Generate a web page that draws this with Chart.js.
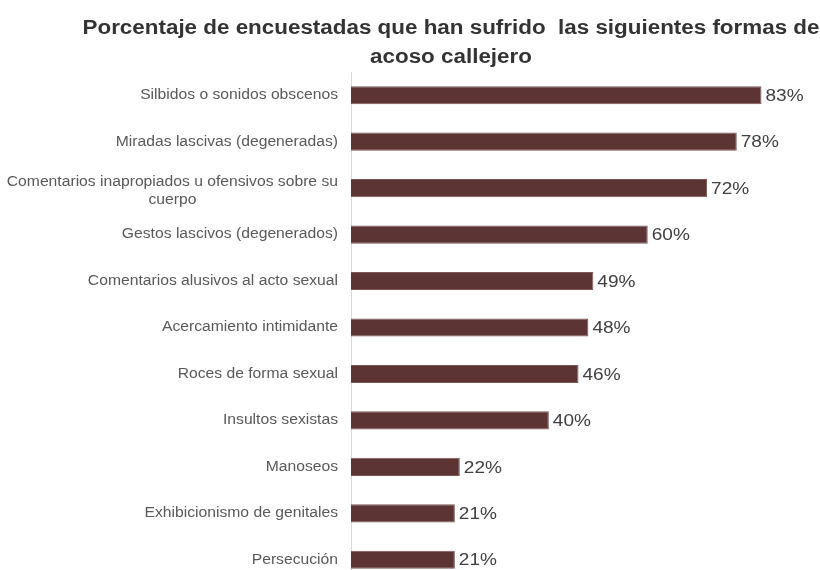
<!DOCTYPE html>
<html>
<head>
<meta charset="utf-8">
<script src="https://cdn.jsdelivr.net/npm/chart.js@4.4.1/dist/chart.umd.min.js"></script>
<style>
    body { margin: 0; background: #fff; }
    #wrap { width: 820px; height: 570px; overflow: hidden; }
    #box { width: 820px; height: 600px; position: relative; }
</style>
</head>
<body>
<div id="wrap"><div id="box"><canvas id="chart"></canvas></div></div>
<script>
// Data
const titleLines = ['Porcentaje de encuestadas que han sufrido  las siguientes formas de', 'acoso callejero'];
const categories = [
    'Silbidos o sonidos obscenos',
    'Miradas lascivas (degeneradas)',
    ['Comentarios inapropiados u ofensivos sobre su', 'cuerpo'],
    'Gestos lascivos (degenerados)',
    'Comentarios alusivos al acto sexual',
    'Acercamiento intimidante',
    'Roces de forma sexual',
    'Insultos sexistas',
    'Manoseos',
    'Exhibicionismo de genitales',
    'Persecución'
];
const values = [83, 78, 72, 60, 49, 48, 46, 40, 22, 21, 21];

const FONT = '"Liberation Sans", Arial, sans-serif';
const STRETCH = 1.12; // text in the original is a bit wide

function wideText(ctx, text, x, y, align) {
    ctx.save();
    ctx.translate(x, y);
    ctx.scale(STRETCH, 1);
    ctx.textAlign = align;
    ctx.fillText(text, 0, 0);
    ctx.restore();
}

// Title, category labels and value labels drawn on the canvas
const textPlugin = {
    id: 'textPlugin',
    afterDraw(chart) {
        const ctx = chart.ctx;
        ctx.save();

        // title
        ctx.fillStyle = '#333333';
        ctx.font = 'bold 20px ' + FONT;
        ctx.textBaseline = 'alphabetic';
        titleLines.forEach((line, i) => wideText(ctx, line, 451, 34 + i * 29, 'center'));

        // category labels (multi-line ones centered on their widest line)
        const yScale = chart.scales.y;
        ctx.fillStyle = '#595959';
        ctx.font = '14px ' + FONT;
        ctx.textBaseline = 'middle';
        categories.forEach((label, i) => {
            const lines = Array.isArray(label) ? label : [label];
            const maxW = Math.max(...lines.map(l => ctx.measureText(l).width)) * STRETCH;
            const cx = yScale.right - 13 - maxW / 2;
            const cy = yScale.getPixelForTick(i);
            const lh = 18;
            lines.forEach((l, j) => {
                wideText(ctx, l, cx, cy + (j - (lines.length - 1) / 2) * lh + (lines.length > 1 ? 3 : 0), 'center');
            });
        });

        // value labels
        ctx.fillStyle = '#404040';
        ctx.font = '17px ' + FONT;
        chart.getDatasetMeta(0).data.forEach((bar, i) => {
            wideText(ctx, values[i] + '%', bar.x + 4, bar.y + 1, 'left');
        });

        ctx.restore();
    }
};

const chart = new Chart(document.getElementById('chart').getContext('2d'), {
    type: 'bar',
    data: {
        labels: categories,
        datasets: [{
            data: values,
            backgroundColor: '#5c3434',
            borderColor: '#7d5555',
            borderWidth: 1,
            barPercentage: 0.78,
            categoryPercentage: 0.5
        }]
    },
    options: {
        indexAxis: 'y',
        responsive: true,
        maintainAspectRatio: false,
        animation: false,
        layout: { padding: { top: 72, right: 14, bottom: 17, left: 0 } },
        plugins: {
            legend: { display: false },
            tooltip: { enabled: false }
        },
        scales: {
            x: { display: false, min: 0, max: 92 },
            y: {
                ticks: { display: false },
                grid: { display: false },
                border: { color: '#d9d9d9', width: 1 },
                afterFit: scale => { scale.width = 351; }
            }
        }
    },
    plugins: [textPlugin]
});
</script>
</body>
</html>
